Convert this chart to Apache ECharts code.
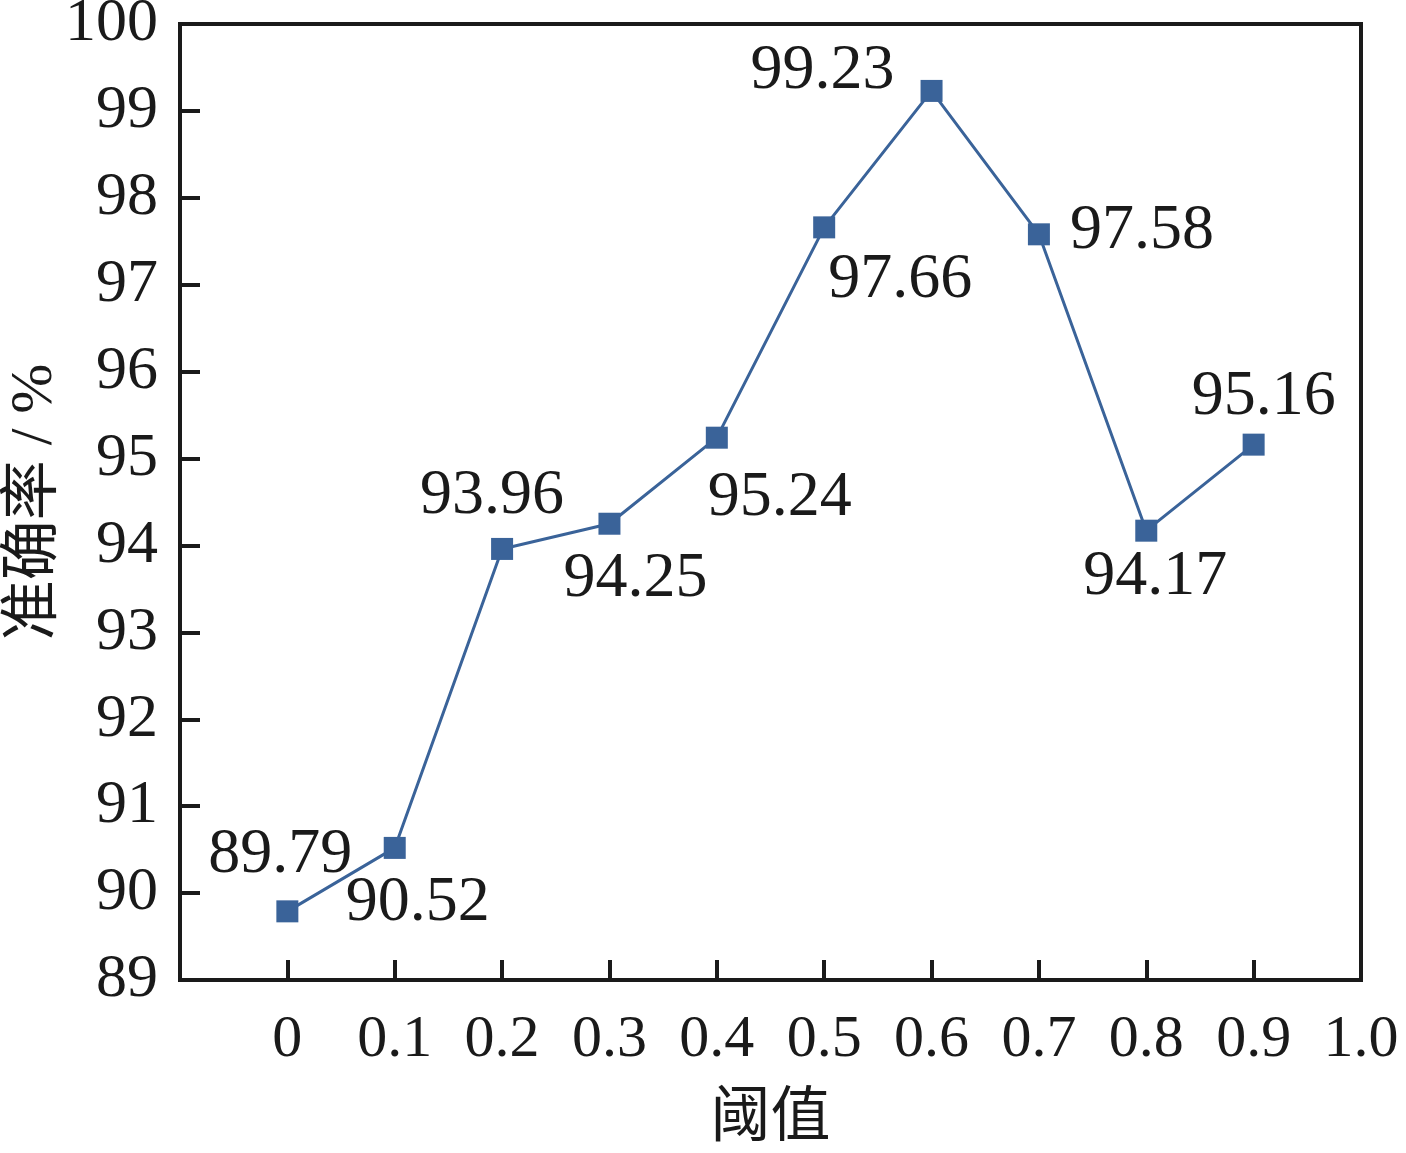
<!DOCTYPE html>
<html>
<head>
<meta charset="utf-8">
<script src="https://cdn.jsdelivr.net/npm/echarts@6/dist/echarts.min.js"></script>
<style>
html, body { margin: 0; padding: 0; background: #fff; }
#main { width: 1406px; height: 1153px; }
</style>
</head>
<body>
<div id="main"></div>
<script>
var thresholds = [0, 0.1, 0.2, 0.3, 0.4, 0.5, 0.6, 0.7, 0.8, 0.9];
var accuracy = [89.79, 90.52, 93.96, 94.25, 95.24, 97.66, 99.23, 97.58, 94.17, 95.16];
// label placement around each marker (pixels)
var labelOffsets = [[-7, -56], [23, 55], [-10, -53], [26, 55], [63, 61],
                    [76, 53], [-109, -20], [103, -3], [9, 47], [10, -47]];

var serif = '"Liberation Serif", "Times New Roman", serif';
var cjk = '"Liberation Serif", "Noto Sans CJK SC", serif';
var ink = '#1a1a1a';

var seriesData = [];
for (var i = 0; i < thresholds.length; i++) {
    seriesData.push({
        value: [thresholds[i], accuracy[i]],
        label: {offset: labelOffsets[i]}
    });
}

var mychart = echarts.init(document.getElementById('main'));
var option = {
    animation: false,
    grid: {
        left: 180, right: 45, top: 24, bottom: 173,
        containLabel: false,
        outerBoundsMode: 'none',
        show: true, borderColor: ink, borderWidth: 4
    },
    xAxis: {
        type: 'value',
        min: -0.1,
        max: 1.0,
        interval: 0.1,
        name: '阈值',
        nameLocation: 'middle',
        nameGap: 110,
        nameMoveOverlap: false,
        nameTextStyle: {fontFamily: cjk, fontSize: 60, color: ink},
        splitLine: {show: false},
        axisLine: {onZero: false, lineStyle: {color: ink, width: 4}},
        axisTick: {inside: true, length: 20, lineStyle: {color: ink, width: 4}},
        axisLabel: {
            margin: 30,
            fontFamily: serif,
            fontSize: 60,
            color: ink,
            formatter: function (v) {
                var r = Math.round(v * 10);
                if (r < 0) return '';
                if (r === 0) return '0';
                return (r / 10).toFixed(1);
            }
        }
    },
    yAxis: {
        type: 'value',
        min: 89,
        max: 100,
        interval: 1,
        name: '准确率 / %',
        nameLocation: 'middle',
        nameGap: 115,
        nameMoveOverlap: false,
        nameRotate: 90,
        nameTextStyle: {fontFamily: cjk, fontSize: 60, color: ink},
        splitLine: {show: false},
        axisLine: {onZero: false, lineStyle: {color: ink, width: 4}},
        axisTick: {inside: true, length: 20, lineStyle: {color: ink, width: 4}},
        axisLabel: {margin: 22, fontFamily: serif, fontSize: 62, color: ink}
    },
    series: [{
        type: 'line',
        data: seriesData,
        symbol: 'rect',
        symbolSize: 22,
        itemStyle: {color: '#3a6399'},
        lineStyle: {color: '#3a6399', width: 3},
        label: {
            show: true,
            position: 'inside',
            fontFamily: serif,
            fontSize: 64,
            color: ink,
            formatter: function (p) { return p.value[1].toFixed(2); }
        }
    }]
};
mychart.setOption(option);
</script>
</body>
</html>
